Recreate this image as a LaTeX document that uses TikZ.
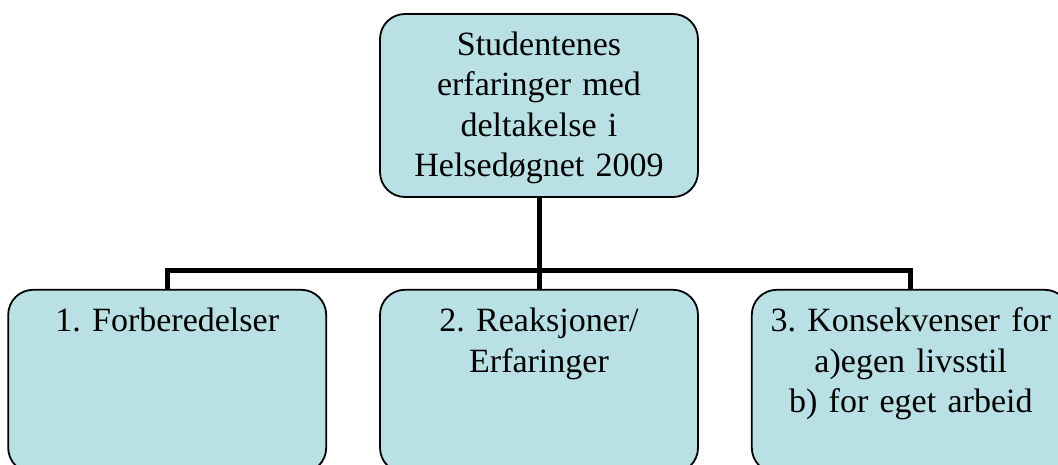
\documentclass[tikz,border=0pt]{standalone}
\usepackage{fontspec}
\setmainfont{Liberation Serif}
\usepackage{xcolor}
\usepackage{tikz}
\usetikzlibrary{positioning}
\frenchspacing
\definecolor{BoxFill}{HTML}{B9E0E4}
\definecolor{Ink}{HTML}{000000}
\tikzset{
  topic/.style={rounded corners=25pt,draw=Ink,fill=BoxFill,line width=1.8pt,
    minimum width=318pt,minimum height=183pt,text width=300pt,align=center,
    inner sep=0pt,font=\fontsize{34}{40.5}\selectfont},
  head/.style={topic,text height=23pt,text depth=123pt},
  part/.style={topic,inner ysep=14pt,text height=28pt,text depth=127pt},
  link/.style={draw=Ink,line width=5pt,line join=miter}
}

\begin{document}
\begin{tikzpicture}[x=1pt,y=1pt,node distance=91pt and 52pt]
  \useasboundingbox (0,0) rectangle (1058,-465);
  \node[head] (studies) at (539,-105.5) {Studentenes\\erfaringer med\\deltakelse i\\Helsedøgnet 2009};
  \node[part,below=of studies] (reactions) {2. Reaksjoner/\\Erfaringer};
  \node[part,left=of reactions] (prepare) {1. Forberedelser};
  \node[part,right=of reactions] (results) {3. Konsekvenser for\\a)egen livsstil\\b) for eget arbeid};
  \draw[link] (studies.south) -- (reactions.north);
  \draw[link] (prepare.north) -- ++(0,18) -| (results.north);
\end{tikzpicture}
\end{document}
